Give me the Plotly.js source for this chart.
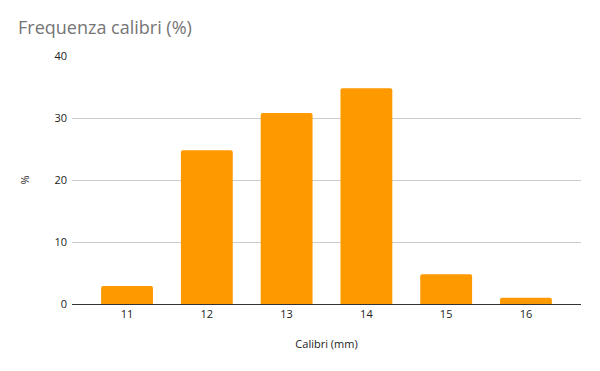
<!DOCTYPE html>
<html>
<head>
<meta charset="utf-8">
<script src="https://cdn.plot.ly/plotly-3.0.1.min.js"></script>
<style>html,body{margin:0;padding:0;background:#fff;}#chart{width:600px;height:371px;}</style>
</head>
<body>
<div id="chart"></div>
<script>
const categories = ["11", "12", "13", "14", "15", "16"];
const frequenza = [2.9, 24.8, 30.8, 34.8, 4.8, 1.0];
const yTicks = [0, 10, 20, 30, 40];

const trace = {
  type: "bar",
  x: categories,
  y: frequenza,
  marker: { color: "#ff9900", cornerradius: 2 },
  hoverinfo: "x+y"
};

const layout = {
  width: 600,
  height: 371,
  margin: { l: 72, r: 19, t: 56, b: 67 },
  paper_bgcolor: "#ffffff",
  plot_bgcolor: "#ffffff",
  bargap: 0.35,
  showlegend: false,
  font: { family: "Open Sans, Noto Sans, sans-serif", color: "#222222", size: 11 },
  title: {
    text: "Frequenza calibri (%)",
    x: 18 / 600, xanchor: "left", xref: "container",
    y: 1 - 28 / 371, yanchor: "middle", yref: "container",
    font: { family: "Open Sans, Noto Sans, sans-serif", size: 18, color: "#757575" }
  },
  xaxis: {
    type: "category",
    range: [-0.69, 5.69],
    showgrid: false,
    showline: true,
    linecolor: "#333333",
    linewidth: 1,
    ticks: "",
    tickfont: { size: 11, color: "#222222" },
    title: { text: "Calibri (mm)", font: { size: 11, color: "#222222" }, standoff: 20 },
    fixedrange: true
  },
  yaxis: {
    range: [0, 40],
    tickvals: yTicks,
    ticktext: yTicks.map(String),
    showgrid: true,
    gridcolor: "#cccccc",
    gridwidth: 1,
    zeroline: false,
    showline: false,
    ticks: "",
    ticklabelstandoff: 4,
    tickfont: { size: 11, color: "#222222" },
    title: { text: "%", font: { size: 11, color: "#222222" }, standoff: 22 },
    fixedrange: true
  }
};

Plotly.newPlot("chart", [trace], layout, { displayModeBar: false, staticPlot: true });
</script>
</body>
</html>
